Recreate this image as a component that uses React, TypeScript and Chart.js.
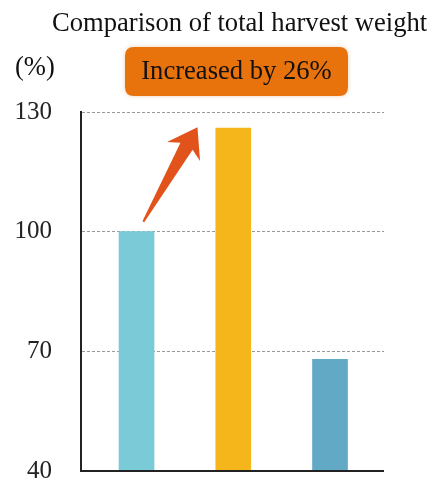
import React, { useEffect, useRef } from "react";
import { Chart, registerables } from "chart.js";

Chart.register(...registerables);

const categories = ["A", "B", "C"];
const values = [100, 126, 68];
const barColors = ["#7ACAD8", "#F5B61C", "#62A9C6"];
const yTicks = [40, 70, 100, 130];
const titleText = "Comparison of total harvest weight";
const unitText = "(%)";
const badgeText = "Increased by 26%";
const arrowFrom = { x: 0.07, y: 102.5 };
const arrowTo = { x: 0.63, y: 126.2 };

const SERIF = '"Liberation Serif", "DejaVu Serif", serif';

const decorPlugin = {
  id: "decor",
  afterDraw(chart: any) {
    const ctx = chart.ctx as CanvasRenderingContext2D;
    const xs = chart.scales.x;
    const ys = chart.scales.y;
    const area = chart.chartArea;
    ctx.save();
    // x axis line
    ctx.strokeStyle = "#222";
    ctx.lineWidth = 2;
    ctx.beginPath();
    ctx.moveTo(area.left - 1, area.bottom);
    ctx.lineTo(area.right, area.bottom);
    ctx.stroke();
    // title
    ctx.fillStyle = "#111";
    ctx.font = `26.6px ${SERIF}`;
    ctx.textBaseline = "alphabetic";
    ctx.textAlign = "left";
    ctx.fillText(titleText, 52, 31);
    // unit
    ctx.fillText(unitText, 15, 75);
    // badge
    const bx = 125, by = 47, bw = 223, bh = 49, r = 9;
    ctx.shadowColor = "rgba(200,120,40,0.35)";
    ctx.shadowBlur = 4;
    ctx.fillStyle = "#E8720C";
    ctx.beginPath();
    ctx.moveTo(bx + r, by);
    ctx.lineTo(bx + bw - r, by);
    ctx.quadraticCurveTo(bx + bw, by, bx + bw, by + r);
    ctx.lineTo(bx + bw, by + bh - r);
    ctx.quadraticCurveTo(bx + bw, by + bh, bx + bw - r, by + bh);
    ctx.lineTo(bx + r, by + bh);
    ctx.quadraticCurveTo(bx, by + bh, bx, by + bh - r);
    ctx.lineTo(bx, by + r);
    ctx.quadraticCurveTo(bx, by, bx + r, by);
    ctx.closePath();
    ctx.fill();
    ctx.shadowBlur = 0;
    ctx.shadowColor = "transparent";
    ctx.fillStyle = "#111";
    ctx.textAlign = "center";
    ctx.textBaseline = "middle";
    ctx.fillText(badgeText, bx + bw / 2, by + bh / 2 + 1);
    // arrow
    const x0 = xs.getPixelForValue(arrowFrom.x);
    const y0 = ys.getPixelForValue(arrowFrom.y);
    const x1 = xs.getPixelForValue(arrowTo.x);
    const y1 = ys.getPixelForValue(arrowTo.y);
    const dx = x1 - x0, dy = y1 - y0;
    const L = Math.hypot(dx, dy);
    const ux = dx / L, uy = dy / L;
    const nx = -uy, ny = ux;
    const headLen = 28, headHalf = 19, notch = 6, tailHalf = 1, neckHalf = 7;
    const hbx = x1 - ux * headLen, hby = y1 - uy * headLen;
    const nbx = x1 - ux * (headLen - notch), nby = y1 - uy * (headLen - notch);
    ctx.fillStyle = "#E2531C";
    ctx.beginPath();
    ctx.moveTo(x0 + nx * tailHalf, y0 + ny * tailHalf);
    ctx.lineTo(nbx + nx * neckHalf, nby + ny * neckHalf);
    ctx.lineTo(hbx + nx * headHalf, hby + ny * headHalf);
    ctx.lineTo(x1, y1);
    ctx.lineTo(hbx - nx * headHalf, hby - ny * headHalf);
    ctx.lineTo(nbx - nx * neckHalf, nby - ny * neckHalf);
    ctx.lineTo(x0 - nx * tailHalf, y0 - ny * tailHalf);
    ctx.closePath();
    ctx.fill();
    ctx.restore();
  },
};

export default function App() {
  const ref = useRef<HTMLCanvasElement>(null);
  useEffect(() => {
    const chart = new Chart(ref.current!, {
      type: "bar",
      data: {
        datasets: [
          {
            data: categories.map((_, i) => ({ x: i, y: values[i] })),
            backgroundColor: barColors,
            barThickness: 35,
          },
        ],
      },
      options: {
        animation: false,
        responsive: false,
        layout: { padding: { left: 0, top: 112, right: 43, bottom: 13 } },
        plugins: { legend: { display: false }, tooltip: { enabled: false } },
        scales: {
          x: {
            type: "linear",
            display: false,
            offset: false,
            min: -0.574,
            max: 2.558,
          },
          y: {
            min: 40,
            max: 130,
            afterBuildTicks: (s: any) => {
              s.ticks = yTicks.map((v) => ({ value: v }));
            },
            ticks: {
              padding: 29,
              color: "#222",
              font: { family: SERIF, size: 25 },
            },
            grid: {
              drawTicks: false,
              color: (c: any) => (c.tick && c.tick.value === 40 ? "transparent" : "#9a9a9a"),
              lineWidth: 1,
            },
            border: { display: true, color: "#222", width: 2, dash: [3, 2] as any },
            afterFit: (s: any) => {
              s.width = 81;
              s.paddingTop = 0;
              s.paddingBottom = 0;
            },
          },
        },
      },
      plugins: [decorPlugin],
    } as any);
    return () => chart.destroy();
  }, []);
  return (
    <div style={{ position: "absolute", left: 0, top: 0, width: 427, height: 484 }}>
      <canvas ref={ref} width={427} height={484} style={{ width: 427, height: 484 }} />
    </div>
  );
}
